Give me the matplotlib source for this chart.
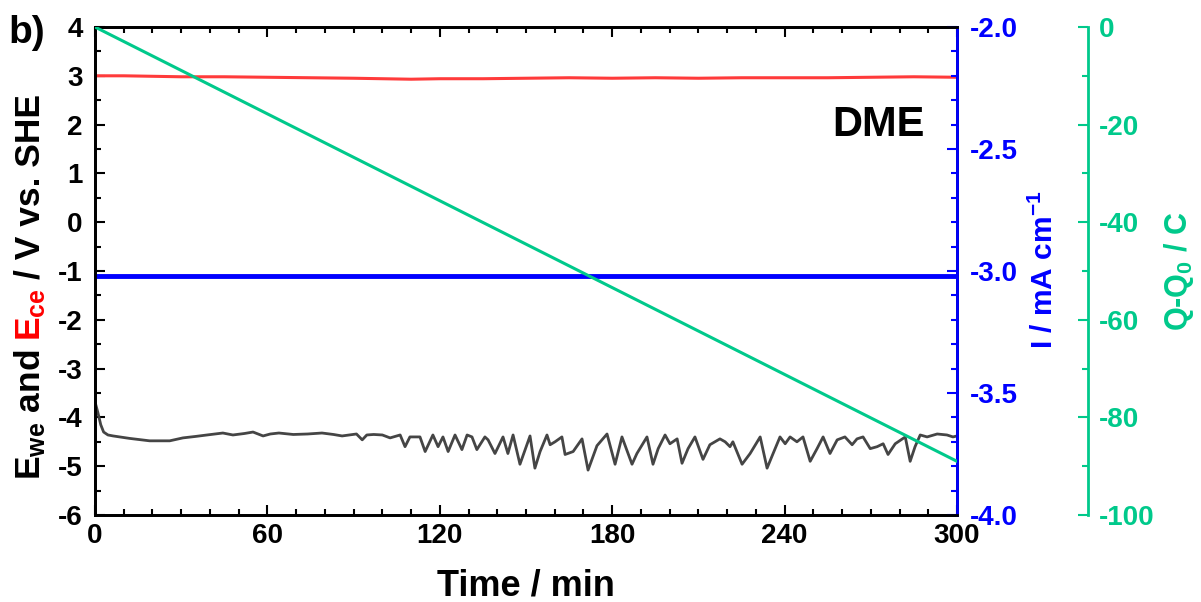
import matplotlib
matplotlib.use("Agg")
import matplotlib.pyplot as plt
import matplotlib.transforms as mtransforms
from matplotlib.ticker import MultipleLocator, FormatStrFormatter

plt.rcParams['font.family'] = ['Liberation Sans', 'DejaVu Sans']
plt.rcParams['font.weight'] = 'bold'
plt.rcParams['axes.unicode_minus'] = False
plt.rcParams['mathtext.fontset'] = 'custom'
plt.rcParams['mathtext.rm'] = 'Liberation Sans:bold'
plt.rcParams['mathtext.bf'] = 'Liberation Sans:bold'
plt.rcParams['mathtext.it'] = 'Liberation Sans:bold'

# working electrode potential (V vs. SHE)
t_we = [0, 1, 2, 3, 4.5, 6.3, 12, 19, 26, 30.6, 35, 39, 44.5, 48, 52, 55, 58.5, 61, 64, 69,
        74, 79, 83, 86, 91, 93, 94.6, 97, 100, 102.7, 106.2, 107.9, 109.6, 113.1, 114.9,
        117.6, 119.4, 121.1, 122.9, 125.3, 127.7, 129.5, 131.2, 132.9, 135.7, 136.8, 139.2,
        142, 143.7, 145.5, 147.9, 151.4, 153.1, 154.9, 157.3, 158.4, 160.1, 162.5, 163.6,
        166.4, 169.5, 171.6, 174.7, 178.2, 181, 183.4, 186.9, 188.6, 192.1, 194.2, 196,
        198.4, 200.1, 202.6, 204.3, 206.4, 208.8, 211.6, 214, 217.5, 219.3, 221, 222,
        225.2, 228, 231.5, 233.9, 236, 238.4, 240.2, 241.9, 244.3, 246.4, 248.9, 251.3,
        253.4, 255.8, 258.3, 261, 263.5, 265.2, 267.3, 269.8, 272.2, 274.3, 276, 278.5,
        282, 283.7, 285.4, 287.2, 289.6, 293.1, 296.5, 298.6, 300]
e_we = [-3.68, -3.9, -4.15, -4.3, -4.36, -4.38, -4.43, -4.48, -4.48, -4.42, -4.39, -4.36,
        -4.32, -4.36, -4.33, -4.3, -4.38, -4.34, -4.32, -4.35, -4.34, -4.32, -4.35, -4.38,
        -4.34, -4.46, -4.36, -4.35, -4.36, -4.42, -4.36, -4.6, -4.4, -4.4, -4.7, -4.36,
        -4.6, -4.4, -4.7, -4.36, -4.66, -4.36, -4.4, -4.66, -4.4, -4.46, -4.74, -4.4,
        -4.74, -4.36, -4.96, -4.38, -5.04, -4.7, -4.36, -4.56, -4.5, -4.4, -4.76, -4.7,
        -4.44, -5.08, -4.58, -4.34, -4.96, -4.4, -4.96, -4.74, -4.4, -4.96, -4.64, -4.36,
        -4.54, -4.44, -4.94, -4.64, -4.4, -4.86, -4.56, -4.44, -4.5, -4.6, -4.5, -4.96,
        -4.74, -4.4, -5.04, -4.74, -4.4, -4.54, -4.4, -4.5, -4.4, -4.9, -4.64, -4.4,
        -4.74, -4.46, -4.4, -4.56, -4.44, -4.4, -4.64, -4.6, -4.54, -4.76, -4.54, -4.4,
        -4.9, -4.6, -4.36, -4.4, -4.34, -4.36, -4.4, -4.38]

# counter electrode potential
t_ce = [0, 10, 20, 30, 45, 60, 75, 90, 100, 110, 120, 135, 150, 165, 180, 195, 210, 225,
        240, 255, 270, 285, 300]
e_ce = [3.00, 3.00, 2.99, 2.98, 2.98, 2.97, 2.96, 2.95, 2.94, 2.93, 2.94, 2.94, 2.95, 2.96,
        2.95, 2.96, 2.95, 2.96, 2.96, 2.96, 2.97, 2.98, 2.97]

# current density
t_i = [0, 60, 120, 180, 240, 300]
i_cd = [-3.02, -3.02, -3.02, -3.02, -3.02, -3.02]

# charge
t_q = [0, 60, 120, 180, 240, 300]
q = [0, -17.8, -35.6, -53.4, -71.2, -89.0]

BLUE = '#0000ff'
GREEN = '#00c98b'
RED = '#ff3b3b'

fig = plt.figure(figsize=(12.01, 6.02), dpi=100)
ax = fig.add_axes([95 / 1201, 1 - 515 / 602, 862 / 1201, 488 / 602])
ax2 = ax.twinx()
ax3 = ax.twinx()

ax.plot(t_we, e_we, color='#454545', lw=2.0)
ax.plot(t_ce, e_ce, color=RED, lw=2.2)
ax2.plot(t_i, i_cd, color=BLUE, lw=3.5)
ax3.plot(t_q, q, color=GREEN, lw=2.2)

ax.set_xlim(0, 300)
ax.set_ylim(-6, 4)
ax2.set_ylim(-4.0, -2.0)
ax3.set_ylim(-100, 0)

ax.xaxis.set_major_locator(MultipleLocator(60))
ax.xaxis.set_minor_locator(MultipleLocator(10))
ax.yaxis.set_major_locator(MultipleLocator(1))
ax.yaxis.set_minor_locator(MultipleLocator(0.5))
ax2.yaxis.set_major_locator(MultipleLocator(0.5))
ax2.yaxis.set_minor_locator(MultipleLocator(0.1))
ax2.yaxis.set_major_formatter(FormatStrFormatter('%.1f'))
ax3.yaxis.set_major_locator(MultipleLocator(20))
ax3.yaxis.set_minor_locator(MultipleLocator(10))

for a in (ax, ax2, ax3):
    for s in a.spines.values():
        s.set_linewidth(2)

ax.tick_params(which='both', direction='in', width=1.5, top=True, right=False,
               labelsize=20)
ax.tick_params(which='major', length=7)
ax.tick_params(which='minor', length=4)
ax.tick_params(axis='x', pad=6)
ax.tick_params(axis='y', pad=9)

ax2.spines['right'].set_color(BLUE)
ax2.tick_params(which='both', direction='in', width=1.5, colors=BLUE, labelsize=20, pad=9)
ax2.tick_params(which='major', length=7)
ax2.tick_params(which='minor', length=4)

ax3.spines['right'].set_position(('axes', 1.152))
ax3.spines['right'].set_color(GREEN)
for s in ('left', 'top', 'bottom'):
    ax3.spines[s].set_visible(False)
ax3.tick_params(which='both', direction='in', width=1.5, colors=GREEN, labelsize=20, pad=8)
ax3.tick_params(which='major', length=7)
ax3.tick_params(which='minor', length=4)

ax.text(0.909, 0.80, 'DME', transform=ax.transAxes, fontsize=30, ha='center', va='center')
fig.text(8 / 1201, 1 - 33 / 602, 'b)', fontsize=28, ha='left', va='center')
fig.text(526 / 1201, 7 / 602, 'Time / min', fontsize=26, ha='center', va='baseline')


def stacked_label(pieces, x, yc, size, gap):
    renderer = fig.canvas.get_renderer()
    texts = []
    for s, c in pieces:
        t = fig.text(0, 0, s, color=c, fontsize=size, rotation=90, rotation_mode='anchor',
                     ha='left', va='baseline', transform=mtransforms.IdentityTransform())
        texts.append(t)
    heights = [t.get_window_extent(renderer).height for t in texts]
    y = yc - (sum(heights) + gap * (len(texts) - 1)) / 2
    for t, h in zip(texts, heights):
        t.set_position((x, y))
        y += h + gap


stacked_label([(r'E$_\mathrm{we}$ and', 'black'), (r'E$_\mathrm{ce}$', 'red'),
               ('/ V vs. SHE', 'black')], 40, 602 - 287, 25.5, 9)
stacked_label([(r'I / mA cm$^\mathrm{-1}$', BLUE)], 1053, 602 - 270, 21.5, 0)
stacked_label([(r'Q-Q$_\mathrm{0}$ / C', GREEN)], 1187, 602 - 271, 22, 0)

fig.savefig('out.png', dpi=100)
